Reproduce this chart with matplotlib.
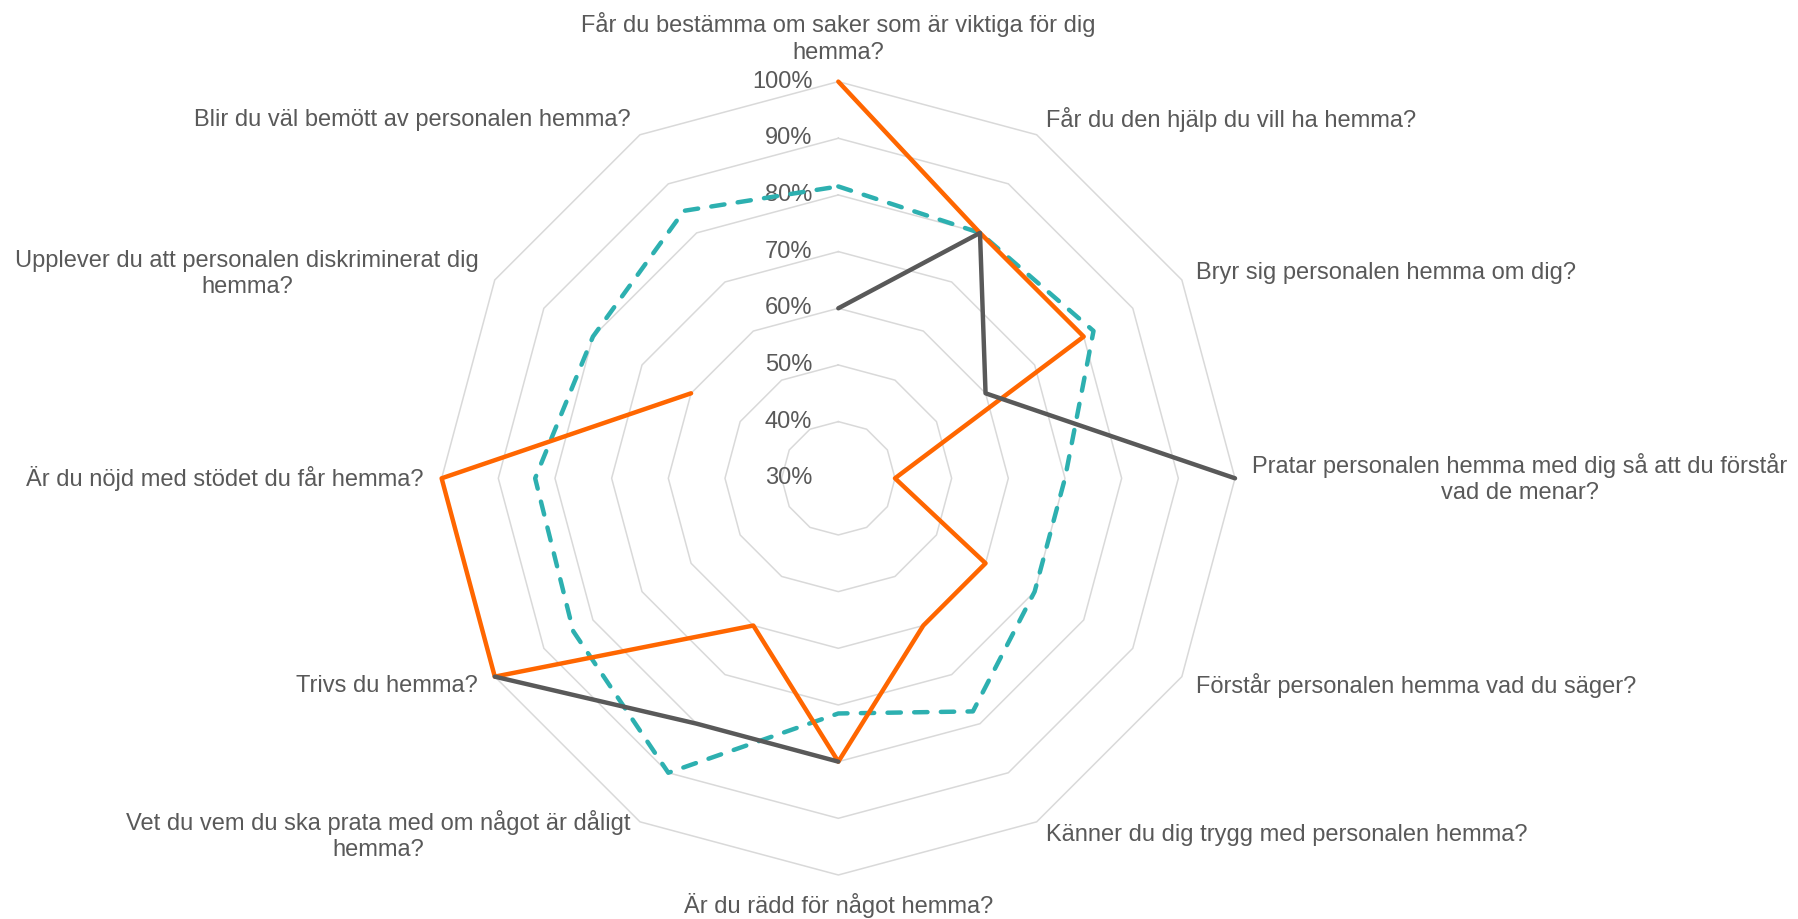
import numpy as np
import matplotlib
matplotlib.use('Agg')
import matplotlib.pyplot as plt

plt.rcParams['font.family'] = ['Liberation Sans', 'DejaVu Sans']

categories = [
    'Får du bestämma om saker som är viktiga för dig\nhemma?',
    'Får du den hjälp du vill ha hemma?',
    'Bryr sig personalen hemma om dig?',
    'Pratar personalen hemma med dig så att du förstår\nvad de menar?',
    'Förstår personalen hemma vad du säger?',
    'Känner du dig trygg med personalen hemma?',
    'Är du rädd för något hemma?',
    'Vet du vem du ska prata med om något är dåligt\nhemma?',
    'Trivs du hemma?',
    'Är du nöjd med stödet du får hemma?',
    'Upplever du att personalen diskriminerat dig\nhemma?',
    'Blir du väl bemött av personalen hemma?',
]

nan = np.nan
teal_vals = [81.5, 80, 82, 70, 70, 77.5, 71.5, 90, 84, 83.5, 80, 84.5]
orange_vals = [100, 80, 80, 40, 60, 60, 80, 60, 100, 100, 60, nan]
gray_vals = [60, 80, 60, 100, nan, nan, 80, 80, 100, nan, nan, nan]

ticks = [30, 40, 50, 60, 70, 80, 90, 100]
tick_labels = ['30%', '40%', '50%', '60%', '70%', '80%', '90%', '100%']

# label offsets in pixels (dx, dy) and alignment per category
label_pos = [
    (0, 18, 'center', 'bottom'),
    (9, 15, 'left', 'center'),
    (14, 7, 'left', 'center'),
    (17, 0, 'left', 'center'),
    (14, -9, 'left', 'center'),
    (9, -13, 'left', 'center'),
    (0, -31, 'center', 'center'),
    (-9, -14, 'right', 'center'),
    (-17, -9, 'right', 'center'),
    (-18, 0, 'right', 'center'),
    (-16, 6, 'right', 'center'),
    (-9, 15, 'right', 'center'),
]

text_color = '#595959'
grid_color = '#D9D9D9'
fs = 17

n = len(categories)
theta = np.linspace(0, 2 * np.pi, n, endpoint=False)
theta_c = np.append(theta, 2 * np.pi)


def closed(vals):
    v = np.array(vals, dtype=float) / 100.0
    return np.append(v, v[0])


fig = plt.figure(figsize=(17.98, 9.19), dpi=100)
ax = fig.add_axes([0.2456, 0.0479, 0.4413, 0.8633], projection='polar')
ax.set_theta_zero_location('N')
ax.set_theta_direction(-1)
ax.set_ylim(0.3, 1.0)
ax.grid(False)
ax.set_xticks([])
ax.set_yticks([])
ax.spines['polar'].set_visible(False)
ax.patch.set_visible(False)

# polygon gridlines (no spokes)
for t in ticks[1:]:
    ax.plot(theta_c, np.full(n + 1, t / 100.0), color=grid_color, lw=1.1,
            zorder=1, clip_on=False)

ax.plot(theta_c, closed(teal_vals), color='#2DB0B0', lw=3.2,
        dashes=(3, 3), dash_capstyle='round', zorder=3, clip_on=False)
ax.plot(theta_c, closed(orange_vals), color='#FF6600', lw=3.2,
        solid_capstyle='round', zorder=4, clip_on=False)
ax.plot(theta_c, closed(gray_vals), color='#595959', lw=3.2,
        solid_capstyle='round', zorder=5, clip_on=False)

px = 72 / 100.0
for t, lab in zip(ticks, tick_labels):
    ax.annotate(lab, xy=(0, t / 100.0), xytext=(-26 * px, 0),
                textcoords='offset points', ha='right', va='center',
                fontsize=fs, color=text_color, zorder=2)

for th, lab, (dx, dy, ha, va) in zip(theta, categories, label_pos):
    ax.annotate(lab, xy=(th, 1.0), xytext=(dx * px, dy * px),
                textcoords='offset points', ha=ha, va=va,
                multialignment='center', fontsize=fs, color=text_color,
                linespacing=1.25, annotation_clip=False)

fig.savefig('out.png', dpi=100, facecolor='white')
